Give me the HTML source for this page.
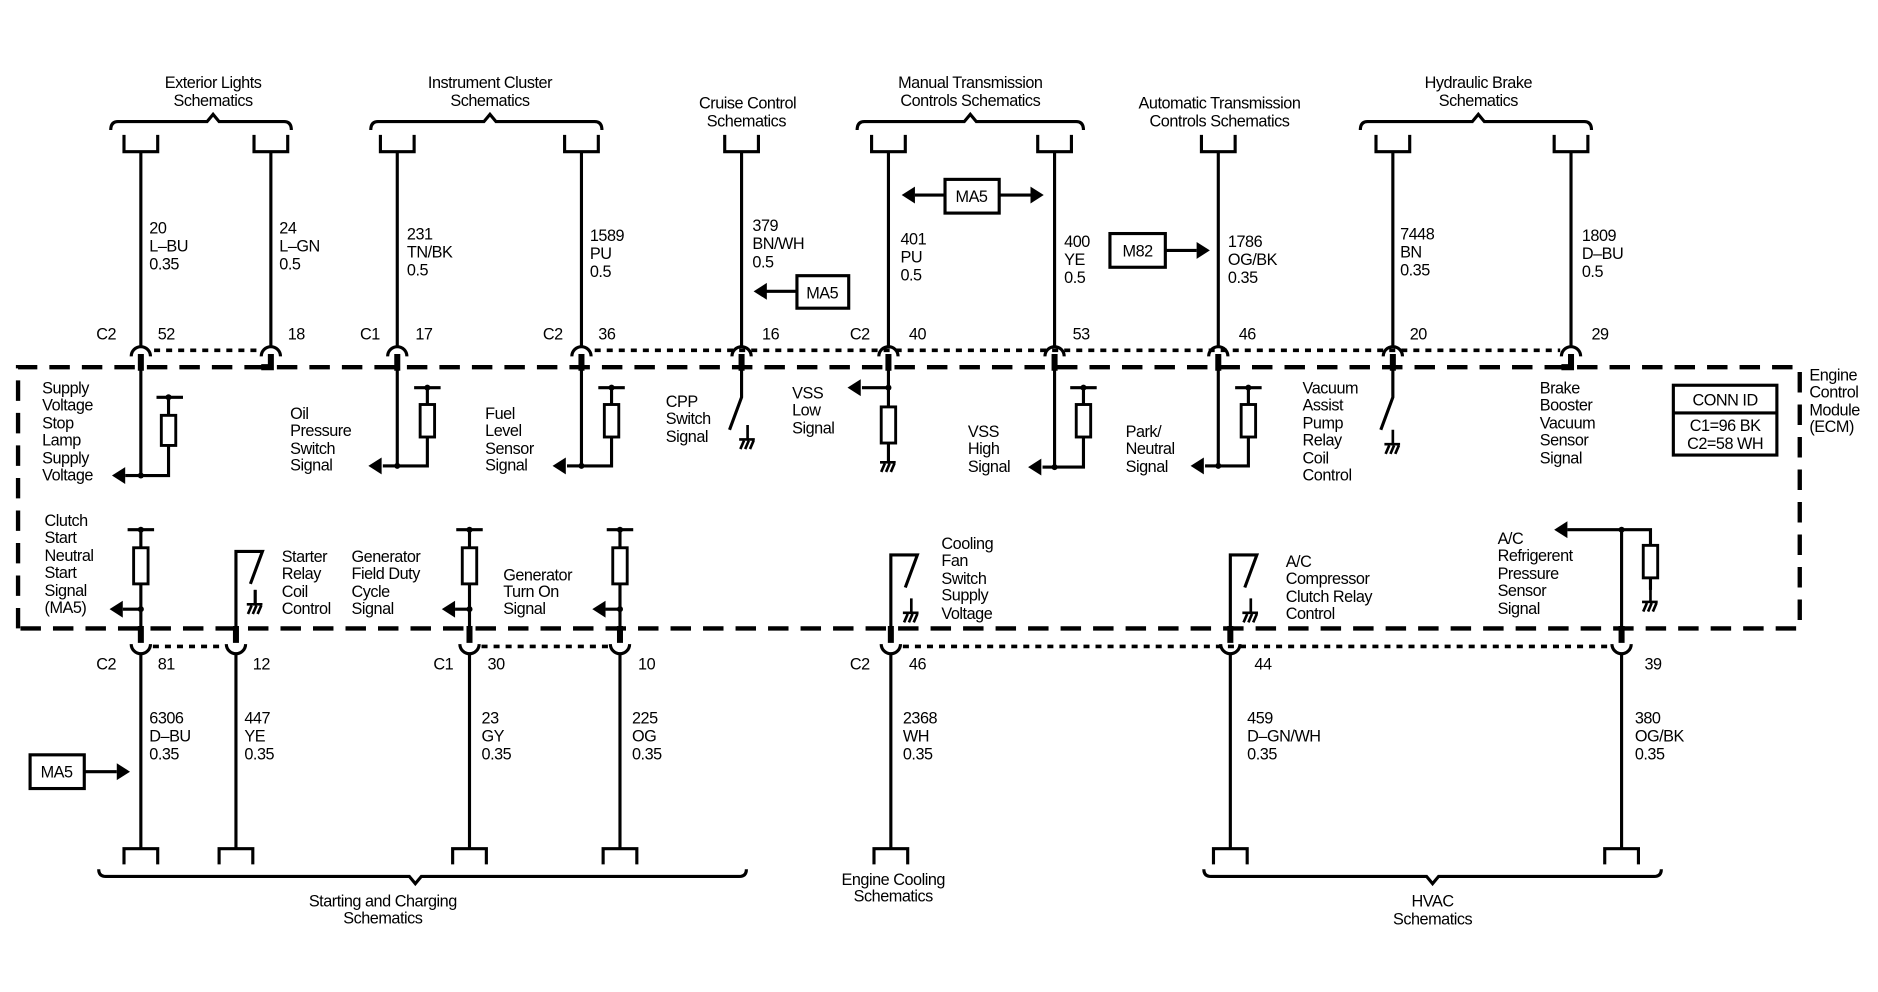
<!DOCTYPE html>
<html><head><meta charset="utf-8"><style>
html,body{margin:0;padding:0;background:#fff;}
svg{display:block}
text{font-family:"Liberation Sans",sans-serif;font-size:13.5px;fill:#000;letter-spacing:-0.4px}
.w{stroke:#000;stroke-width:2.6;fill:none}
.h{stroke:#000;stroke-width:5;fill:none}
.t{stroke:#000;stroke-width:2.6;fill:none}
.db{stroke:#000;stroke-width:3.6;fill:none;stroke-dasharray:17,10}
.dt{stroke:#000;stroke-width:3;fill:none;stroke-dasharray:5,5}
.r{stroke:#000;stroke-width:2.4;fill:#fff}
</style></head><body>
<svg width="1878" height="992" viewBox="0 0 1560 824" preserveAspectRatio="none" xmlns="http://www.w3.org/2000/svg">
<defs>
<g id="gnd"><path d="M0 0V12M-7 12H6M-6 20L-3 13M-2 20L1 13M2 20L5 13" stroke="#000" stroke-width="2.2" fill="none"/></g>
<g id="al"><polygon points="0,0 11,-7 11,7" fill="#000"/></g>
<g id="ar"><polygon points="0,0 -11,-7 -11,7" fill="#000"/></g>
</defs>

<!-- headers -->
<text x="177" y="73" text-anchor="middle">Exterior Lights</text><text x="177" y="88" text-anchor="middle">Schematics</text>
<text x="407" y="73" text-anchor="middle">Instrument Cluster</text><text x="407" y="88" text-anchor="middle">Schematics</text>
<text x="621" y="90" text-anchor="middle">Cruise Control</text><text x="620" y="105" text-anchor="middle">Schematics</text>
<text x="806" y="73" text-anchor="middle">Manual Transmission</text><text x="806" y="88" text-anchor="middle">Controls Schematics</text>
<text x="1013" y="90" text-anchor="middle">Automatic Transmission</text><text x="1013" y="105" text-anchor="middle">Controls Schematics</text>
<text x="1228" y="73" text-anchor="middle">Hydraulic Brake</text><text x="1228" y="88" text-anchor="middle">Schematics</text>

<!-- top braces -->
<path class="t" d="M92 108Q92 101 98 101H172L177 95L182 101H236Q242 101 242 108"/>
<path class="t" d="M308 108Q308 101 314 101H402L407 95L412 101H494Q500 101 500 108"/>
<path class="t" d="M712 108Q712 101 718 101H801L806 95L811 101H894Q900 101 900 108"/>
<path class="t" d="M1130 108Q1130 101 1136 101H1223L1228 95L1233 101H1316Q1322 101 1322 108"/>

<!-- top terminals and wires -->
<g class="t">
<path d="M103 112V126H131V112M117 126V287"/>
<path d="M211 112V126H239V112M225 126V287"/>
<path d="M316 112V126H344V112M330 126V287"/>
<path d="M469 112V126H497V112M483 126V287"/>
<path d="M602 112V126H630V112M616 126V287"/>
<path d="M724 112V126H752V112M738 126V287"/>
<path d="M862 112V126H890V112M876 126V287"/>
<path d="M998 112V126H1026V112M1012 126V287"/>
<path d="M1143 112V126H1171V112M1157 126V287"/>
<path d="M1291 112V126H1319V112M1305 126V287"/>
</g>

<!-- top wire labels -->
<text x="124" y="194">20</text><text x="124" y="209">L–BU</text><text x="124" y="224">0.35</text>
<text x="232" y="194">24</text><text x="232" y="209">L–GN</text><text x="232" y="224">0.5</text>
<text x="338" y="199">231</text><text x="338" y="214">TN/BK</text><text x="338" y="229">0.5</text>
<text x="490" y="200">1589</text><text x="490" y="215">PU</text><text x="490" y="230">0.5</text>
<text x="625" y="192">379</text><text x="625" y="207">BN/WH</text><text x="625" y="222">0.5</text>
<text x="748" y="203">401</text><text x="748" y="218">PU</text><text x="748" y="233">0.5</text>
<text x="884" y="205">400</text><text x="884" y="220">YE</text><text x="884" y="235">0.5</text>
<text x="1020" y="205">1786</text><text x="1020" y="220">OG/BK</text><text x="1020" y="235">0.35</text>
<text x="1163" y="199">7448</text><text x="1163" y="214">BN</text><text x="1163" y="229">0.35</text>
<text x="1314" y="200">1809</text><text x="1314" y="215">D–BU</text><text x="1314" y="230">0.5</text>

<!-- MA5/M82 boxes top -->
<rect x="662" y="229" width="43" height="27" class="t"/><text x="683" y="248" text-anchor="middle">MA5</text>
<path class="t" d="M662 242H636"/><use href="#al" x="626" y="242"/>
<rect x="785" y="149" width="45" height="28" class="t"/><text x="807" y="168" text-anchor="middle">MA5</text>
<path class="t" d="M760 162H785M830 162H856"/><use href="#al" x="749" y="162"/><use href="#ar" x="867" y="162"/>
<rect x="922" y="194" width="46" height="28" class="t"/><text x="945" y="213" text-anchor="middle">M82</text>
<path class="t" d="M968 208H994"/><use href="#ar" x="1005" y="208"/>

<!-- top connector labels -->
<text x="80" y="282">C2</text><text x="131" y="282">52</text><text x="239" y="282">18</text>
<text x="299" y="282">C1</text><text x="345" y="282">17</text>
<text x="451" y="282">C2</text><text x="497" y="282">36</text><text x="633" y="282">16</text>
<text x="706" y="282">C2</text><text x="755" y="282">40</text>
<text x="891" y="282">53</text><text x="1029" y="282">46</text><text x="1171" y="282">20</text><text x="1322" y="282">29</text>

<!-- top arcs + stubs -->
<g class="t">
<path d="M109 296A8 8 0 0 1 125 296"/><path d="M217 296A8 8 0 0 1 233 296"/>
<path d="M322 296A8 8 0 0 1 338 296"/><path d="M475 296A8 8 0 0 1 491 296"/>
<path d="M608 296A8 8 0 0 1 624 296"/><path d="M730 296A8 8 0 0 1 746 296"/>
<path d="M868 296A8 8 0 0 1 884 296"/><path d="M1004 296A8 8 0 0 1 1020 296"/>
<path d="M1149 296A8 8 0 0 1 1165 296"/><path d="M1297 296A8 8 0 0 1 1313 296"/>
</g>
<g class="h">
<path d="M117 294V308M225 294V305H217M330 294V308M483 294V308M616 294V308M738 294V308M876 294V308M1012 294V308M1157 294V308M1305 294V305H1297"/>
</g>
<path class="dt" d="M128 291H214"/>
<path class="dt" d="M494 291H1296"/>

<!-- dashed module box -->
<path class="db" d="M15 522V305H1495V522H15"/>

<!-- top internals -->
<g class="t">
<path d="M117 305V395H140V370M140 345V330M130 330H152"/><rect class="r" x="134" y="345" width="12" height="25"/>
<path d="M104 395H117"/>
<path d="M330 305V387H355V363M355 336V322M344 322H366"/><rect class="r" x="349" y="336" width="12" height="27"/>
<path d="M318 387H330"/>
<path d="M483 305V387H508V363M508 336V322M497 322H519"/><rect class="r" x="502" y="336" width="12" height="27"/>
<path d="M471 387H483"/>
<path d="M616 305V330L606 357"/>
<path d="M738 305V338M738 368V384M716 322H738"/><rect class="r" x="732" y="338" width="12" height="30"/>
<path d="M876 305V388H900V363M900 336V322M889 322H911"/><rect class="r" x="894" y="336" width="12" height="27"/>
<path d="M866 388H876"/>
<path d="M1012 305V387H1037V363M1037 336V322M1026 322H1048"/><rect class="r" x="1031" y="336" width="12" height="27"/>
<path d="M1001 387H1012"/>
<path d="M1157 305V330L1147 357"/>
</g>
<use href="#al" x="93" y="395"/><use href="#al" x="306" y="387"/><use href="#al" x="459" y="387"/>
<use href="#al" x="704" y="322"/><use href="#al" x="854" y="388"/><use href="#al" x="989" y="387"/>
<use href="#gnd" x="621" y="353"/><use href="#gnd" x="738" y="372"/><use href="#gnd" x="1157" y="357"/>
<g fill="#000">
<circle cx="117" cy="395" r="2.5"/><circle cx="140" cy="330" r="2.5"/><circle cx="330" cy="387" r="2.5"/><circle cx="355" cy="322" r="2.5"/>
<circle cx="483" cy="387" r="2.5"/><circle cx="508" cy="322" r="2.5"/><circle cx="738" cy="322" r="2.5"/>
<circle cx="876" cy="388" r="2.5"/><circle cx="900" cy="322" r="2.5"/><circle cx="1012" cy="387" r="2.5"/><circle cx="1037" cy="322" r="2.5"/>
</g>

<text x="35" y="327">Supply</text><text x="35" y="341">Voltage</text><text x="35" y="356">Stop</text><text x="35" y="370">Lamp</text><text x="35" y="385">Supply</text><text x="35" y="399">Voltage</text>
<text x="241" y="348">Oil</text><text x="241" y="362">Pressure</text><text x="241" y="377">Switch</text><text x="241" y="391">Signal</text>
<text x="403" y="348">Fuel</text><text x="403" y="362">Level</text><text x="403" y="377">Sensor</text><text x="403" y="391">Signal</text>
<text x="553" y="338">CPP</text><text x="553" y="352">Switch</text><text x="553" y="367">Signal</text>
<text x="658" y="331">VSS</text><text x="658" y="345">Low</text><text x="658" y="360">Signal</text>
<text x="804" y="363">VSS</text><text x="804" y="377">High</text><text x="804" y="392">Signal</text>
<text x="935" y="363">Park/</text><text x="935" y="377">Neutral</text><text x="935" y="392">Signal</text>
<text x="1082" y="327">Vacuum</text><text x="1082" y="341">Assist</text><text x="1082" y="356">Pump</text><text x="1082" y="370">Relay</text><text x="1082" y="385">Coil</text><text x="1082" y="399">Control</text>
<text x="1279" y="327">Brake</text><text x="1279" y="341">Booster</text><text x="1279" y="356">Vacuum</text><text x="1279" y="370">Sensor</text><text x="1279" y="385">Signal</text>
<rect x="1390" y="320" width="86" height="58" class="t"/><path class="t" d="M1390 343H1476"/>
<text x="1433" y="337" text-anchor="middle">CONN ID</text><text x="1433" y="358" text-anchor="middle">C1=96 BK</text><text x="1433" y="373" text-anchor="middle">C2=58 WH</text>
<text x="1503" y="316">Engine</text><text x="1503" y="330">Control</text><text x="1503" y="345">Module</text><text x="1503" y="359">(ECM)</text>

<!-- bottom internals -->
<g class="t">
<path d="M117 522V485M117 455V440M106 440H128M102 506H117"/><rect class="r" x="111" y="455" width="12" height="30"/>
<path d="M196 522V458H218L208 485M212 490V502"/>
<path d="M390 522V485M390 455V440M379 440H401M378 506H390"/><rect class="r" x="384" y="455" width="12" height="30"/>
<path d="M515 522V485M515 455V440M504 440H526M503 506H515"/><rect class="r" x="509" y="455" width="12" height="30"/>
<path d="M740 522V461H762L752 488"/>
<path d="M1022 522V461H1044L1034 488"/>
<path d="M1347 522V440H1371V455M1371 480V490M1302 440H1347"/><rect class="r" x="1365" y="453" width="12" height="27"/>
</g>
<use href="#gnd" x="212" y="490"/><use href="#gnd" x="757" y="497"/><use href="#gnd" x="1039" y="497"/><use href="#gnd" x="1371" y="488"/>
<use href="#al" x="91" y="506"/><use href="#al" x="367" y="506"/><use href="#al" x="492" y="506"/><use href="#al" x="1291" y="440"/>
<g fill="#000"><circle cx="117" cy="506" r="2.5"/><circle cx="117" cy="440" r="2.5"/><circle cx="390" cy="506" r="2.5"/><circle cx="390" cy="440" r="2.5"/><circle cx="515" cy="506" r="2.5"/><circle cx="515" cy="440" r="2.5"/><circle cx="1347" cy="440" r="2.5"/></g>

<text x="37" y="437">Clutch</text><text x="37" y="451">Start</text><text x="37" y="466">Neutral</text><text x="37" y="480">Start</text><text x="37" y="495">Signal</text><text x="37" y="509">(MA5)</text>
<text x="234" y="467">Starter</text><text x="234" y="481">Relay</text><text x="234" y="496">Coil</text><text x="234" y="510">Control</text>
<text x="292" y="467">Generator</text><text x="292" y="481">Field Duty</text><text x="292" y="496">Cycle</text><text x="292" y="510">Signal</text>
<text x="418" y="482">Generator</text><text x="418" y="496">Turn On</text><text x="418" y="510">Signal</text>
<text x="782" y="456">Cooling</text><text x="782" y="470">Fan</text><text x="782" y="485">Switch</text><text x="782" y="499">Supply</text><text x="782" y="514">Voltage</text>
<text x="1068" y="471">A/C</text><text x="1068" y="485">Compressor</text><text x="1068" y="500">Clutch Relay</text><text x="1068" y="514">Control</text>
<text x="1244" y="452">A/C</text><text x="1244" y="466">Refrigerent</text><text x="1244" y="481">Pressure</text><text x="1244" y="495">Sensor</text><text x="1244" y="510">Signal</text>

<!-- bottom connectors -->
<g class="h"><path d="M117 520V534M196 520V534M390 520V534M515 520V534M740 520V534M1022 520V534M1347 520V534"/></g>
<g class="t">
<path d="M109 535A8 8 0 0 0 125 535"/><path d="M188 535A8 8 0 0 0 204 535"/><path d="M382 535A8 8 0 0 0 398 535"/><path d="M507 535A8 8 0 0 0 523 535"/>
<path d="M732 535A8 8 0 0 0 748 535"/><path d="M1014 535A8 8 0 0 0 1030 535"/><path d="M1339 535A8 8 0 0 0 1355 535"/>
</g>
<path class="dt" d="M127 537H186"/><path class="dt" d="M400 537H505"/><path class="dt" d="M750 537H1337"/>
<text x="80" y="556">C2</text><text x="131" y="556">81</text><text x="210" y="556">12</text>
<text x="360" y="556">C1</text><text x="405" y="556">30</text><text x="530" y="556">10</text>
<text x="706" y="556">C2</text><text x="755" y="556">46</text><text x="1042" y="556">44</text><text x="1366" y="556">39</text>

<g class="t">
<path d="M117 543V705M103 718V705H131V718"/>
<path d="M196 543V705M182 718V705H210V718"/>
<path d="M390 543V705M376 718V705H404V718"/>
<path d="M515 543V705M501 718V705H529V718"/>
<path d="M740 543V705M726 718V705H754V718"/>
<path d="M1022 543V705M1008 718V705H1036V718"/>
<path d="M1347 543V705M1333 718V705H1361V718"/>
</g>
<text x="124" y="601">6306</text><text x="124" y="616">D–BU</text><text x="124" y="631">0.35</text>
<text x="203" y="601">447</text><text x="203" y="616">YE</text><text x="203" y="631">0.35</text>
<text x="400" y="601">23</text><text x="400" y="616">GY</text><text x="400" y="631">0.35</text>
<text x="525" y="601">225</text><text x="525" y="616">OG</text><text x="525" y="631">0.35</text>
<text x="750" y="601">2368</text><text x="750" y="616">WH</text><text x="750" y="631">0.35</text>
<text x="1036" y="601">459</text><text x="1036" y="616">D–GN/WH</text><text x="1036" y="631">0.35</text>
<text x="1358" y="601">380</text><text x="1358" y="616">OG/BK</text><text x="1358" y="631">0.35</text>
<rect x="25" y="627" width="45" height="28" class="t"/><text x="47" y="646" text-anchor="middle">MA5</text>
<path class="t" d="M70 641H97"/><use href="#ar" x="108" y="641"/>

<path class="t" d="M82 722Q82 728 88 728H340L345 734L350 728H614Q620 728 620 722"/>
<path class="t" d="M1000 722Q1000 728 1006 728H1185L1190 734L1195 728H1374Q1380 728 1380 722"/>
<text x="318" y="753" text-anchor="middle">Starting and Charging</text><text x="318" y="767" text-anchor="middle">Schematics</text>
<text x="742" y="735" text-anchor="middle">Engine Cooling</text><text x="742" y="749" text-anchor="middle">Schematics</text>
<text x="1190" y="753" text-anchor="middle">HVAC</text><text x="1190" y="768" text-anchor="middle">Schematics</text>
</svg>
</body></html>
